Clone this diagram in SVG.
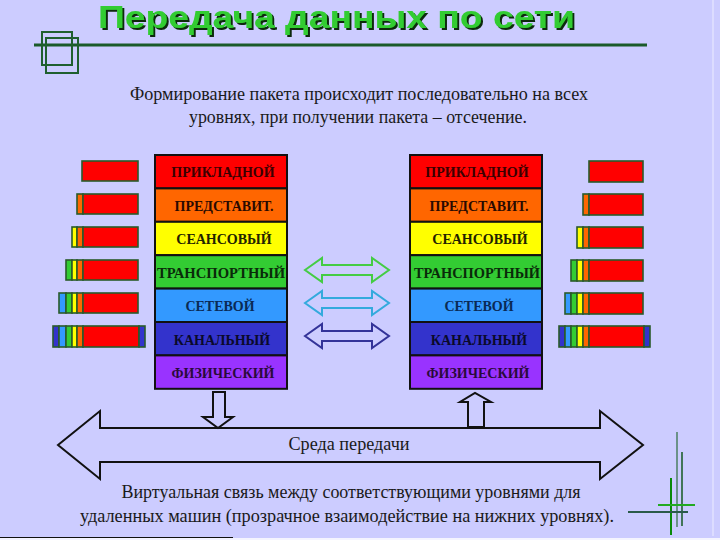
<svg xmlns="http://www.w3.org/2000/svg" width="720" height="540" viewBox="0 0 720 540">
<defs>
<style>
.bg{fill:#CCCCFF}
.title{font-family:"Liberation Sans",Arial,sans-serif;font-weight:bold;font-size:32px}
.txt{font-family:"Liberation Serif","Times New Roman",serif;font-size:19px;fill:#1a1a1a}
.layer{stroke:#111;stroke-width:2}
.lt{font-family:"Liberation Serif","Times New Roman",serif;font-weight:bold;font-size:14px;text-anchor:middle}
.pk{stroke:#2a5a2a;stroke-width:1.6}
.dbl{fill:none;stroke-width:2;stroke-linejoin:miter}
.blk{fill:none;stroke:#111;stroke-width:2}
.deco{stroke:#1f5f2f;fill:none}
</style>
<filter id="shadow" x="-5%" y="-30%" width="110%" height="160%">
<feDropShadow dx="2" dy="2" stdDeviation="0.4" flood-color="#102a10" flood-opacity="1"/>
</filter>
</defs>
<rect class="bg" x="0" y="0" width="720" height="540"/>
<line x1="713" y1="0" x2="713" y2="536" stroke="#E2E2FF" stroke-width="1.5"/>
<line x1="0" y1="537.5" x2="233" y2="537.5" stroke="#111" stroke-width="1"/>
<rect x="0" y="538" width="720" height="2" fill="#F4F4FF"/>

<g id="title">
<text class="title" x="98" y="28" fill="#33CC33" filter="url(#shadow)" textLength="477" lengthAdjust="spacingAndGlyphs">Передача данных по сети</text>
</g>
<g id="title-deco" class="deco">
<line x1="34" y1="45" x2="647" y2="45" stroke-width="3" stroke="#1a5a2a"/>
<rect x="42" y="32" width="30" height="33" stroke-width="2"/>
<rect x="46" y="38" width="32" height="35" stroke-width="2"/>
</g>

<g id="subtitle">
<text class="txt" x="359" y="100" text-anchor="middle" textLength="458" lengthAdjust="spacingAndGlyphs">Формирование пакета происходит последовательно на всех</text>
<text class="txt" x="358" y="123" text-anchor="middle" textLength="338" lengthAdjust="spacingAndGlyphs">уровнях, при получении пакета – отсечение.</text>
</g>

<!-- Left stack -->
<g id="left-stack">
<g id="l-app"><rect class="layer" x="155" y="155" width="132" height="33.4" fill="#FF0000"/><text class="lt" x="223" y="177" fill="#3a0000">ПРИКЛАДНОЙ</text></g>
<g id="l-pres"><rect class="layer" x="155" y="188.4" width="132" height="33.4" fill="#FF6600"/><text class="lt" x="224" y="211" fill="#2a0a00">ПРЕДСТАВИТ.</text></g>
<g id="l-sess"><rect class="layer" x="155" y="221.8" width="132" height="33.4" fill="#FFFF00"/><text class="lt" x="224" y="244" fill="#222200">СЕАНСОВЫЙ</text></g>
<g id="l-trans"><rect class="layer" x="155" y="255.2" width="132" height="33.4" fill="#33CC33"/><text class="lt" x="221" y="278" fill="#0a2a0a" textLength="128" lengthAdjust="spacingAndGlyphs">ТРАНСПОРТНЫЙ</text></g>
<g id="l-net"><rect class="layer" x="155" y="288.6" width="132" height="33.4" fill="#3399FF"/><text class="lt" x="220" y="311" fill="#0a2a55">СЕТЕВОЙ</text></g>
<g id="l-link"><rect class="layer" x="155" y="322" width="132" height="33.4" fill="#3333CC"/><text class="lt" x="222" y="345" fill="#0a0a2a">КАНАЛЬНЫЙ</text></g>
<g id="l-phys"><rect class="layer" x="155" y="355.4" width="132" height="33.4" fill="#9933FF"/><text class="lt" x="223" y="378" fill="#2a0a3a">ФИЗИЧЕСКИЙ</text></g>
</g>

<!-- Right stack -->
<g id="right-stack">
<g id="r-app"><rect class="layer" x="410" y="155" width="132" height="33.4" fill="#FF0000"/><text class="lt" x="477" y="177" fill="#3a0000">ПРИКЛАДНОЙ</text></g>
<g id="r-pres"><rect class="layer" x="410" y="188.4" width="132" height="33.4" fill="#FF6600"/><text class="lt" x="479" y="211" fill="#2a0a00">ПРЕДСТАВИТ.</text></g>
<g id="r-sess"><rect class="layer" x="410" y="221.8" width="132" height="33.4" fill="#FFFF00"/><text class="lt" x="480" y="244" fill="#222200">СЕАНСОВЫЙ</text></g>
<g id="r-trans"><rect class="layer" x="410" y="255.2" width="132" height="33.4" fill="#33CC33"/><text class="lt" x="477" y="278" fill="#0a2a0a" textLength="126" lengthAdjust="spacingAndGlyphs">ТРАНСПОРТНЫЙ</text></g>
<g id="r-net"><rect class="layer" x="410" y="288.6" width="132" height="33.4" fill="#3399FF"/><text class="lt" x="479" y="311" fill="#0a2a55">СЕТЕВОЙ</text></g>
<g id="r-link"><rect class="layer" x="410" y="322" width="132" height="33.4" fill="#3333CC"/><text class="lt" x="479" y="345" fill="#0a0a2a">КАНАЛЬНЫЙ</text></g>
<g id="r-phys"><rect class="layer" x="410" y="355.4" width="132" height="33.4" fill="#9933FF"/><text class="lt" x="478" y="378" fill="#2a0a3a">ФИЗИЧЕСКИЙ</text></g>
</g>

<!-- Left packets -->
<g id="left-packets">
<g id="lp1"><rect class="pk" x="82" y="161" width="56" height="20" fill="#FF0000"/></g>
<g id="lp2"><rect class="pk" x="77" y="194" width="6" height="20" fill="#FF6600"/><rect class="pk" x="83" y="194" width="55" height="20" fill="#FF0000"/></g>
<g id="lp3"><rect class="pk" x="72" y="227" width="5" height="20" fill="#FFFF00"/><rect class="pk" x="77" y="227" width="6" height="20" fill="#FF6600"/><rect class="pk" x="83" y="227" width="55" height="20" fill="#FF0000"/></g>
<g id="lp4"><rect class="pk" x="66" y="260" width="6" height="20" fill="#33CC33"/><rect class="pk" x="72" y="260" width="5" height="20" fill="#FFFF00"/><rect class="pk" x="77" y="260" width="6" height="20" fill="#FF6600"/><rect class="pk" x="83" y="260" width="55" height="20" fill="#FF0000"/></g>
<g id="lp5"><rect class="pk" x="59" y="293" width="7" height="20" fill="#3399FF"/><rect class="pk" x="66" y="293" width="6" height="20" fill="#33CC33"/><rect class="pk" x="72" y="293" width="5" height="20" fill="#FFFF00"/><rect class="pk" x="77" y="293" width="6" height="20" fill="#FF6600"/><rect class="pk" x="83" y="293" width="55" height="20" fill="#FF0000"/></g>
<g id="lp6"><rect class="pk" x="53" y="326" width="6" height="21" fill="#3333CC"/><rect class="pk" x="59" y="326" width="7" height="21" fill="#3399FF"/><rect class="pk" x="66" y="326" width="6" height="21" fill="#33CC33"/><rect class="pk" x="72" y="326" width="5" height="21" fill="#FFFF00"/><rect class="pk" x="77" y="326" width="6" height="21" fill="#FF6600"/><rect class="pk" x="83" y="326" width="56" height="21" fill="#FF0000"/><rect class="pk" x="139" y="326" width="6" height="21" fill="#3333CC"/></g>
</g>

<!-- Right packets -->
<g id="right-packets">
<g id="rp1"><rect class="pk" x="589" y="161" width="54" height="21" fill="#FF0000"/></g>
<g id="rp2"><rect class="pk" x="583" y="194" width="6" height="21" fill="#FF6600"/><rect class="pk" x="589" y="194" width="54" height="21" fill="#FF0000"/></g>
<g id="rp3"><rect class="pk" x="577" y="227" width="6" height="21" fill="#FFFF00"/><rect class="pk" x="583" y="227" width="6" height="21" fill="#FF6600"/><rect class="pk" x="589" y="227" width="54" height="21" fill="#FF0000"/></g>
<g id="rp4"><rect class="pk" x="571" y="260" width="6" height="21" fill="#33CC33"/><rect class="pk" x="577" y="260" width="6" height="21" fill="#FFFF00"/><rect class="pk" x="583" y="260" width="6" height="21" fill="#FF6600"/><rect class="pk" x="589" y="260" width="54" height="21" fill="#FF0000"/></g>
<g id="rp5"><rect class="pk" x="565" y="293" width="6" height="21" fill="#3399FF"/><rect class="pk" x="571" y="293" width="6" height="21" fill="#33CC33"/><rect class="pk" x="577" y="293" width="6" height="21" fill="#FFFF00"/><rect class="pk" x="583" y="293" width="6" height="21" fill="#FF6600"/><rect class="pk" x="589" y="293" width="54" height="21" fill="#FF0000"/></g>
<g id="rp6"><rect class="pk" x="559" y="326" width="6" height="21" fill="#3333CC"/><rect class="pk" x="565" y="326" width="6" height="21" fill="#3399FF"/><rect class="pk" x="571" y="326" width="6" height="21" fill="#33CC33"/><rect class="pk" x="577" y="326" width="6" height="21" fill="#FFFF00"/><rect class="pk" x="583" y="326" width="6" height="21" fill="#FF6600"/><rect class="pk" x="589" y="326" width="55" height="21" fill="#FF0000"/><rect class="pk" x="644" y="326" width="6" height="21" fill="#3333CC"/></g>
</g>

<!-- Connectors -->
<g id="connectors">
<path class="dbl" stroke="#44CC44" d="M305,270 L322,258 L322,265 L372,265 L372,258 L389,270 L372,282 L372,275 L322,275 L322,282 Z"/>
<path class="dbl" stroke="#33AADD" d="M305,303 L322,291 L322,298 L372,298 L372,291 L389,303 L372,315 L372,308 L322,308 L322,315 Z"/>
<path class="dbl" stroke="#333399" d="M305,336 L322,324 L322,331 L372,331 L372,324 L389,336 L372,348 L372,341 L322,341 L322,348 Z"/>
<path class="blk" d="M213,392 L225,392 L225,417 L233,417 L218,428 L203,417 L213,417 Z"/>
<path class="blk" d="M468,427 L468,402 L460,402 L475,393 L491,402 L484,402 L484,427 Z"/>
<path class="blk" d="M58,445 L100,411 L100,428 L600,428 L600,411 L643,445 L600,479 L600,462 L100,462 L100,479 Z"/>
</g>

<g id="medium-label">
<text class="txt" x="349" y="450" text-anchor="middle" textLength="121" lengthAdjust="spacingAndGlyphs">Среда передачи</text>
</g>
<g id="footer">
<text class="txt" x="351" y="498" text-anchor="middle" textLength="459" lengthAdjust="spacingAndGlyphs">Виртуальная связь между соответствующими уровнями для</text>
<text class="txt" x="347" y="522" text-anchor="middle" textLength="534" lengthAdjust="spacingAndGlyphs">удаленных машин (прозрачное взаимодействие на нижних уровнях).</text>
</g>

<g id="corner-deco">
<line x1="677" y1="432" x2="677" y2="527" stroke="#2a6a3a" stroke-width="1.2"/>
<line x1="682" y1="452" x2="682" y2="526" stroke="#1f5f2f" stroke-width="1.6"/>
<line x1="671" y1="478" x2="671" y2="535" stroke="#0a8a0a" stroke-width="2"/>
<line x1="628" y1="512" x2="688" y2="512" stroke="#2a5a4a" stroke-width="2"/>
<line x1="658" y1="505" x2="695" y2="505" stroke="#22aa22" stroke-width="2"/>
</g>
</svg>
